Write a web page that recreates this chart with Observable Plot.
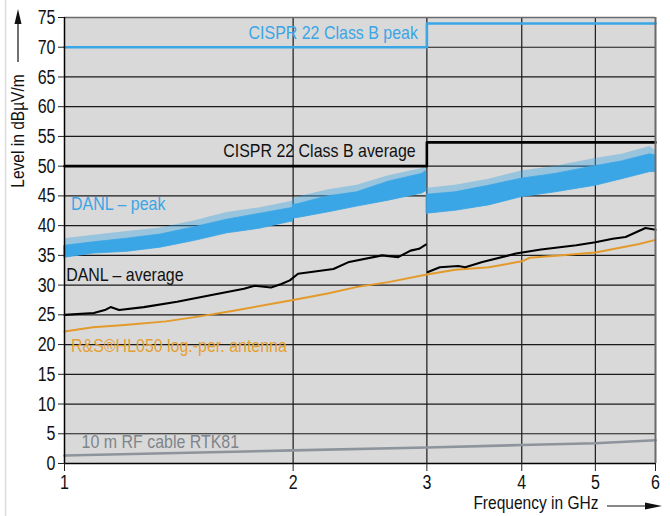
<!DOCTYPE html>
<html>
<head>
<meta charset="utf-8">
<script src="https://cdn.jsdelivr.net/npm/d3@7"></script>
<script src="https://cdn.jsdelivr.net/npm/@observablehq/plot@0.6"></script>
<style>
  html, body { margin: 0; padding: 0; background: #fff; }
  #chart { width: 670px; height: 516px; }
</style>
</head>
<body>
<div id="chart"></div>
<script>
// ---------- data ----------
const yTicks = [0, 5, 10, 15, 20, 25, 30, 35, 40, 45, 50, 55, 60, 65, 70, 75];
const xTicks = [1, 2, 3, 4, 5, 6];
const xGrid = [2, 3, 4, 5];

// CISPR 22 class B limits (GHz, dBµV/m)
const limitF = [1, 3, 6];
const limitPeak = [70, 74, 74];
const limitAvg = [50, 54, 54];

// DANL – peak: dense noise band (lower / upper envelope) and spike maxima, three segments
const peakSegA_F  = [1.0, 1.093, 1.209, 1.338, 1.48, 1.637, 1.811, 1.98, 2.0];
const peakSegA_Lo = [34.6, 35.3, 35.6, 36.3, 37.4, 38.7, 39.5, 40.6, 40.7];
const peakSegA_Hi = [36.6, 37.2, 37.8, 38.5, 39.7, 41.0, 42.0, 42.9, 43.0];
const peakSegA_Sp = [37.8, 38.4, 39.0, 39.6, 40.8, 42.2, 43.0, 44.0, 44.2];
const peakSegB_F  = [2.0, 2.03, 2.218, 2.428, 2.671, 2.957, 2.995];
const peakSegB_Lo = [41.2, 41.3, 42.2, 43.2, 44.2, 45.4, 45.8];
const peakSegB_Hi = [43.5, 43.6, 44.9, 45.6, 47.4, 48.7, 49.2];
const peakSegB_Sp = [44.6, 44.8, 46.0, 46.8, 48.4, 49.6, 50.0];
const peakSegC_F  = [3.0, 3.27, 3.62, 4.0, 4.43, 5.0, 5.42, 5.9, 6.0];
const peakSegC_Lo = [42.0, 42.5, 43.4, 44.8, 45.6, 46.7, 47.8, 49.0, 49.0];
const peakSegC_Hi = [45.2, 45.6, 46.7, 47.9, 48.7, 50.0, 50.8, 52.0, 51.8];
const peakSegC_Sp = [46.3, 46.8, 47.8, 49.2, 50.0, 51.3, 52.0, 53.3, 52.6];

// DANL – average
const avgSegA_F = [1.0, 1.093, 1.13, 1.15, 1.18, 1.272, 1.407, 1.556, 1.723, 1.78, 1.87, 1.93, 1.98, 2.03, 2.26, 2.37, 2.62, 2.75, 2.855, 2.93, 2.99];
const avgSegA_V = [25.0, 25.3, 25.8, 26.3, 25.8, 26.3, 27.2, 28.3, 29.4, 29.9, 29.6, 30.2, 30.8, 31.9, 32.7, 33.9, 35.0, 34.7, 35.8, 36.1, 36.8];
const avgSegB_F = [3.01, 3.12, 3.3, 3.37, 3.55, 3.93, 4.24, 4.72, 5.0, 5.27, 5.48, 5.82, 6.0];
const avgSegB_V = [32.2, 33.0, 33.2, 33.0, 33.9, 35.3, 36.0, 36.7, 37.2, 37.8, 38.1, 39.6, 39.3];

// R&S HL050 log.-per. antenna factor
const antF = [1.0, 1.09, 1.2, 1.36, 1.5, 1.67, 2.0, 2.22, 2.43, 2.67, 3.0, 3.27, 3.62, 4.0, 4.1, 4.52, 5.0, 5.71, 6.0];
const antV = [22.2, 22.9, 23.3, 23.9, 24.7, 25.7, 27.5, 28.6, 29.7, 30.5, 31.8, 32.6, 33.0, 34.0, 34.6, 35.0, 35.5, 36.9, 37.6];

// 10 m RF cable RTK81 loss
const cableF = [1, 2, 3, 4, 5, 6];
const cableV = [1.35, 2.2, 2.7, 3.1, 3.4, 3.9];

// series labels
const labelsEndText = ["CISPR 22 Class B peak", "CISPR 22 Class B average"];
const labelsEndF = [2.92, 2.9];
const labelsEndV = [72.4, 52.5];
const labelsEndColor = ["#3aa6e6", "#111111"];
const labelsStartText = ["DANL – peak", "DANL – average", "R&S®HL050 log.-per. antenna", "10 m RF cable RTK81"];
const labelsStartF = [1.02, 1.005, 1.02, 1.053];
const labelsStartV = [43.7, 31.7, 19.8, 3.6];
const labelsStartColor = ["#3aa6e6", "#111111", "#e5a032", "#7f858b"];

// ---------- build tables ----------
const zip = (seg, F, A, B, C) => F.map((f, i) => ({seg, f, a: A[i], b: B ? B[i] : undefined, c: C ? C[i] : undefined}));
const peakRows = [
  ...zip("A", peakSegA_F, peakSegA_Lo, peakSegA_Hi, peakSegA_Sp),
  ...zip("B", peakSegB_F, peakSegB_Lo, peakSegB_Hi, peakSegB_Sp),
  ...zip("C", peakSegC_F, peakSegC_Lo, peakSegC_Hi, peakSegC_Sp)
];
const avgRows = [...zip("A", avgSegA_F, avgSegA_V), ...zip("B", avgSegB_F, avgSegB_V)];
const antRows = zip("A", antF, antV);
const cableRows = zip("A", cableF, cableV);
const limPeakRows = zip("A", limitF, limitPeak);
const limAvgRows = zip("A", limitF, limitAvg);

const BLUE = "#3aa6e6";
const FONT = "'Liberation Sans', Arial, sans-serif";

const chart = Plot.plot({
  width: 670,
  height: 516,
  marginLeft: 64,
  marginRight: 15,
  marginTop: 17,
  marginBottom: 53,
  x: {type: "log", domain: [1, 6]},
  y: {domain: [0, 75]},
  style: {fontFamily: FONT, fontSize: "20px", background: "#fff", color: "#111", overflow: "visible"},
  marks: [
    Plot.frame({fill: "#d9d9d9", stroke: null}),
    Plot.gridY(yTicks, {stroke: "#1a1a1a", strokeOpacity: 1, strokeWidth: 1.2}),
    Plot.gridX(xGrid, {stroke: "#1a1a1a", strokeOpacity: 1, strokeWidth: 1.2}),
    Plot.line(cableRows, {x: "f", y: "a", stroke: "#8d949b", strokeWidth: 2.6}),
    Plot.line(antRows, {x: "f", y: "a", stroke: "#e39a2a", strokeWidth: 2}),
    Plot.line(avgRows, {x: "f", y: "a", z: "seg", stroke: "#000", strokeWidth: 2.1}),
    // spike halo of the peak trace
    Plot.areaY(peakRows, {x: "f", y1: "a", y2: "c", z: "seg", fill: BLUE, fillOpacity: 0.4}),
    // dense core of the peak trace
    Plot.areaY(peakRows, {x: "f", y1: "a", y2: "b", z: "seg", fill: BLUE, stroke: BLUE, strokeWidth: 0.8}),
    Plot.line(limAvgRows, {x: "f", y: "a", curve: "step-after", stroke: "#000", strokeWidth: 2.6}),
    Plot.line(limPeakRows, {x: "f", y: "a", curve: "step-after", stroke: BLUE, strokeWidth: 2.6}),
    Plot.ruleY([75], {stroke: "#6b6b6b", strokeWidth: 1.5}),
    Plot.ruleX([6], {stroke: "#6b6b6b", strokeWidth: 2}),
    Plot.ruleX([1], {stroke: "#000", strokeWidth: 1.5}),
    Plot.ruleY([0], {stroke: "#000", strokeWidth: 1.5}),
    Plot.axisY(yTicks, {tickSize: 6, tickPadding: 3, label: null, fontSize: 20.5, stroke: "#222", className: "tk"}),
    Plot.axisX(xTicks, {tickSize: 8, tickPadding: 3, label: null, fontSize: 20.5, tickFormat: d => String(d), stroke: "#222", className: "tk"}),
    Plot.text(labelsEndText, {x: (d, i) => labelsEndF[i], y: (d, i) => labelsEndV[i], text: d => d,
      fill: (d, i) => labelsEndColor[i], textAnchor: "end", fontSize: 19}),
    Plot.text(labelsStartText, {x: (d, i) => labelsStartF[i], y: (d, i) => labelsStartV[i], text: d => d,
      fill: (d, i) => labelsStartColor[i], textAnchor: "start", fontSize: 19})
  ]
});

document.getElementById("chart").appendChild(chart);

const svg = d3.select(chart);
svg.append("text")
  .attr("transform", "translate(24,131) rotate(-90)")
  .attr("text-anchor", "middle")
  .attr("font-family", FONT).attr("font-size", 18.5).attr("fill", "#111")
  .text("Level in dBµV/m");
svg.append("line").attr("x1", 18).attr("x2", 18).attr("y1", 62).attr("y2", 22)
  .attr("stroke", "#111").attr("stroke-width", 1.2);
svg.append("path").attr("d", "M18,9 L14.5,24 L21.5,24 Z").attr("fill", "#111");

svg.append("text")
  .attr("x", 536).attr("y", 509)
  .attr("text-anchor", "middle")
  .attr("font-family", FONT).attr("font-size", 18.5).attr("fill", "#111")
  .text("Frequency in GHz");
svg.append("line").attr("x1", 607).attr("x2", 648).attr("y1", 506).attr("y2", 506)
  .attr("stroke", "#111").attr("stroke-width", 1.2);
svg.append("path").attr("d", "M662,506 L645,502.5 L645,509.5 Z").attr("fill", "#111");

svg.insert("line", ":first-child").attr("x1", 5.5).attr("x2", 5.5).attr("y1", 0).attr("y2", 516)
  .attr("stroke", "#dcdcdc").attr("stroke-width", 1.5);

// condense all text horizontally (the original uses a condensed face)
svg.selectAll("text").each(function () {
  const inTick = this.closest(".tk") !== null;
  const s = inTick ? 0.78 : 0.84;
  const w = this.getComputedTextLength();
  if (w > 0) {
    this.setAttribute("textLength", (w * s).toFixed(2));
    this.setAttribute("lengthAdjust", "spacingAndGlyphs");
  }
});
</script>
</body>
</html>
